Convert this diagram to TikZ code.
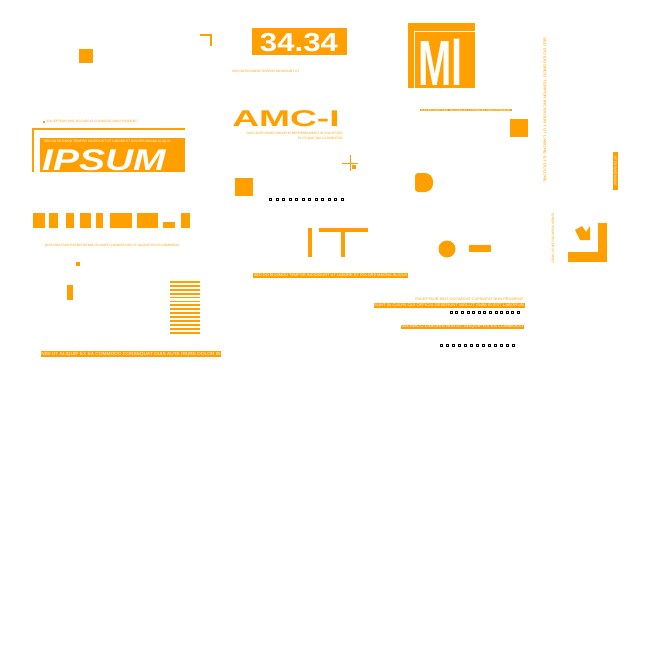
\documentclass[tikz,border=0pt]{standalone}
\usepackage{fontspec}
\usepackage{graphicx}
\setmainfont{Liberation Sans}
\definecolor{og}{HTML}{FFA000}
\begin{document}
\begin{tikzpicture}[x=1pt,y=-1pt,
  blk/.style={fill=og,draw=none},
  tiny/.style={inner sep=0,font=\fontsize{3.2}{3.2}\selectfont,text=og},
  tinyw/.style={inner sep=0.6pt,font=\fontsize{3.2}{3.2}\selectfont,text=white,fill=og},
  dot/.style={draw=black,line width=0.5pt,minimum size=2pt,inner sep=0}]
\useasboundingbox (0,0) rectangle (658,658);
% top-left
\fill[og] (79,49) rectangle (93,63);
\draw[og,line width=2pt] (200,35) -- (211,35) -- (211,46);
% 34 34
\fill[og] (252,28) rectangle (347,55);
\node[inner sep=0,text=white,font=\bfseries\fontsize{26}{26}\selectfont,anchor=center] (n34) at (299,43) {\scalebox{1.2}[1]{34.34}};
\node[tiny,anchor=west] (t1) at (232,71) {SED DO EIUSMOD TEMPOR INCIDIDUNT UT};
% AMC-I
\node[inner sep=0,text=og,font=\bfseries\fontsize{24}{24}\selectfont] (amc) at (286,119) {\scalebox{1.55}[0.95]{AMC-I}};
\node[tiny,anchor=east] (t2) at (343,133) {DUIS AUTE IRURE DOLOR IN REPREHENDERIT IN VOLUPTATE};
\node[tiny,anchor=east] (t3) at (343,138) {EU FUGIAT NULLA PARIATUR};
% IPSUM
\fill[og] (43,121) rectangle (45,123);
\node[tiny,anchor=west] (t4) at (47,122) {EXCEPTEUR SINT OCCAECAT CUPIDATAT NON PROIDENT,};
\draw[og,line width=1.5pt] (185,129) -- (33,129) -- (33,172);
\fill[og] (40,136) rectangle (185,172);
\fill[white] (40,136) rectangle (185,137.5);
\node[tiny,text=white,anchor=west] (t5) at (44,142) {SED DO EIUSMOD TEMPOR INCIDIDUNT UT LABORE ET DOLORE MAGNA ALIQUA};
\begin{scope}
\clip (40,136) rectangle (185,172);
\node[inner sep=0,text=white,font=\bfseries\itshape\fontsize{30}{30}\selectfont,anchor=west] (ipsum) at (42,160) {\scalebox{1.3}[1]{IPSUM}};
\end{scope}
% right top block
\fill[og] (408,23) rectangle (475,88);
\begin{scope}
\clip (408,23) rectangle (475,88);
\draw[white,line width=0.7pt] (414,88) -- (414,31) -- (475,31);
\node[inner sep=0,text=white,font=\bfseries\fontsize{40}{40}\selectfont,anchor=west] (mm) at (418,62) {\scalebox{1}[1.6]{Ml}};
\end{scope}
\fill[og] (420,109) rectangle (512,111.5);
\node[tiny,text=white,anchor=west] (t6) at (421,110.3) {EXCEPTEUR SINT OCCAECAT CUPIDATAT NON PROIDENT};
\fill[og] (510,119) rectangle (528,137);
\node[tiny,rotate=-90,anchor=west] (t7) at (545,37) {\scalebox{1.45}[1.2]{SED DO EIUSMOD TEMPOR INCIDIDUNT UT LABORE ET DOLORE}};
\fill[og] (613,152) rectangle (618,190);
\node[tiny,text=white,rotate=-90] (t8) at (615.5,171) {UT ENIM AD MINIM};
% crosshair
\draw[og,line width=0.6pt] (350,155) -- (350,171) (342,163) -- (358,163);
\fill[og] (352,165) rectangle (356,169);
\fill[og] (235,178) rectangle (253,196);
\fill[og,rounded corners=3pt] (415,173) -- (428,173) -- (433,178) -- (433,187) -- (428,192) -- (415,192) -- cycle;
\foreach \i in {0,...,11} \node[dot] (da\i) at (270.5+6.5*\i,199) {};
% bars row
\foreach \a/\b in {33/45,49/58,66/74,80/91,96/103,110/132,137/158,181/190} \fill[og] (\a,213) rectangle (\b,228);
\fill[og] (163,222) rectangle (175,228);
\node[tiny] (t9) at (112,246) {QUIS NOSTRUD EXERCITATION ULLAMCO LABORIS NISI UT ALIQUIP EX EA COMMODO};
\fill[og] (76,262) rectangle (80,266);
\fill[og] (67,285) rectangle (73,300);
\foreach \i in {0,...,13} \fill[og] (170,281+3.9*\i) rectangle (200,282.8+3.9*\i);
\node[tinyw] (t10) at (131,354) {\scalebox{1.5}[1.4]{NISI UT ALIQUIP EX EA COMMODO CONSEQUAT DUIS AUTE IRURE DOLOR IN}};
% IT
\fill[og] (308,228) rectangle (312,257);
\fill[og] (319,228) rectangle (368,232);
\fill[og] (341,228) rectangle (345,257);
\fill[og] (447,249) circle (8.5);
\fill[og] (469,245) rectangle (491,252);
\node[tinyw] (t11) at (330.5,275.5) {\scalebox{1.22}[1.2]{SED DO EIUSMOD TEMPOR INCIDIDUNT UT LABORE ET DOLORE MAGNA ALIQUA}};
\node[tiny,anchor=east] (t12) at (524,299) {\scalebox{1.2}[1.1]{EXCEPTEUR SINT OCCAECAT CUPIDATAT NON PROIDENT,}};
\node[tinyw,anchor=east] (t13) at (525,305.5) {\scalebox{1.34}[1.2]{SUNT IN CULPA QUI OFFICIA DESERUNT MOLLIT ANIM ID EST LABORUM}};
\foreach \i in {0,...,12} \node[dot] (db\i) at (451+5.6*\i,312) {};
\node[tinyw,anchor=east] (t14) at (524,327) {\scalebox{1.44}[1.2]{ULLAMCO LABORIS NISI UT ALIQUIP EX EA COMMODO}};
\foreach \i in {0,...,12} \node[dot] (dc\i) at (441+6*\i,345) {};
% right bottom
\node[tiny,rotate=-90,anchor=west] (t15) at (553,213) {LOREM IPSUM DOLOR SIT AMET};
\fill[og] (598,223) rectangle (607,262);
\fill[og] (568,252) rectangle (607,262);
\draw[white,line width=0.5pt] (597,225) -- (597,250) -- (570,250);
\fill[og] (575,230) -- (582,226) -- (586,232) -- (590,226) -- (590,240) -- (580,240) -- cycle;
\end{tikzpicture}
\end{document}
